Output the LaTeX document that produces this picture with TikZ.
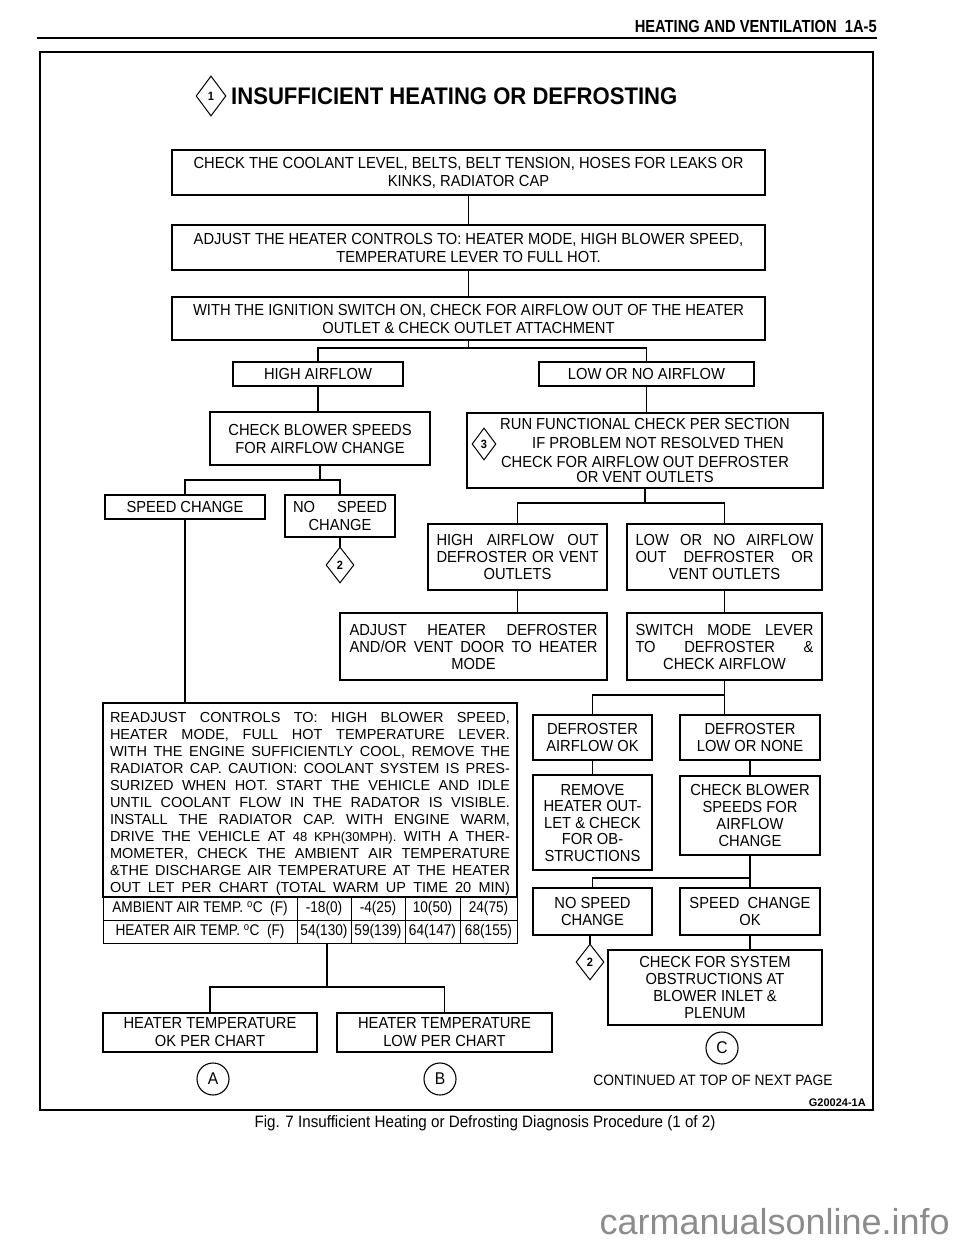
\documentclass[tikz,border=0pt]{standalone}
\usepackage{fontspec}
\setmainfont{Liberation Sans}
\newfontfamily\cond[FakeStretch=0.92]{Liberation Sans}
\newfontfamily\condh[FakeStretch=0.84]{Liberation Sans}
\newfontfamily\condt[FakeStretch=0.88]{Liberation Sans}
\usetikzlibrary{shapes.geometric}
\tikzset{
 box/.style={draw, line width=1.1pt, inner sep=1pt, align=center, font=\cond\fontsize{16}{18}\selectfont},
 lbox/.style={box, font=\cond\fontsize{16}{17}\selectfont},
 conn/.style={line width=1.1pt},
 dmd/.style={draw, diamond, line width=1pt, inner sep=0pt, font=\cond\bfseries\fontsize{12}{12}\selectfont},
 circ/.style={draw, circle, line width=1.1pt, minimum size=32pt, inner sep=0pt, font=\cond\fontsize{17}{17}\selectfont},
 cell/.style={draw, line width=1pt, inner sep=0pt, font=\condt\fontsize{15.5}{15.5}\selectfont},
 plain/.style={inner sep=0pt}
}
\begin{document}
\begin{tikzpicture}[x=1pt,y=-1pt]
\useasboundingbox[fill=white] (0,0) rectangle (960,1242);
% header
\node[plain, anchor=east, font=\condh\bfseries\fontsize{17.5}{18}\selectfont] (hdr) at (877,26) {HEATING AND VENTILATION\ \ 1A-5};
\draw[line width=2pt] (37,38) -- (877,38);
\draw[line width=1.3pt] (40,52) rectangle (873,1110);
% title
\node[dmd, minimum width=30pt, minimum height=40pt] (d1) at (211,96) {1};
\node[plain, anchor=west, font=\cond\bfseries\fontsize{24}{24}\selectfont] (ttl) at (231,96) {INSUFFICIENT HEATING OR DEFROSTING};
% top chain
\node[box, minimum width=593pt, minimum height=45pt] (b1) at (468.5,172.5) {CHECK THE COOLANT LEVEL, BELTS, BELT TENSION, HOSES FOR LEAKS OR\\KINKS, RADIATOR CAP};
\node[box, minimum width=593pt, minimum height=45pt] (b2) at (468.5,247.5) {ADJUST THE HEATER CONTROLS TO: HEATER MODE, HIGH BLOWER SPEED,\\TEMPERATURE LEVER TO FULL HOT.};
\node[box, minimum width=593pt, minimum height=43pt] (b3) at (468.5,318.5) {WITH THE IGNITION SWITCH ON, CHECK FOR AIRFLOW OUT OF THE HEATER\\OUTLET \& CHECK OUTLET ATTACHMENT};
\draw[conn] (b1.south) -- (b2.north);
\draw[conn] (b2.south) -- (b3.north);
% airflow split
\node[box, minimum width=170pt, minimum height=24pt] (high) at (318,374) {HIGH AIRFLOW};
\node[box, minimum width=215pt, minimum height=24pt] (low) at (646.5,374) {LOW OR NO AIRFLOW};
\coordinate (s1) at (468.5,348);
\draw[conn] (b3.south) -- (s1);
\draw[conn] (high.north) |- (s1) -| (low.north);
% left branch
\node[box, minimum width=220pt, minimum height=53pt] (cbs) at (320,438.5) {CHECK BLOWER SPEEDS\\FOR AIRFLOW CHANGE};
\draw[conn] (high.south) -- (high.south |- cbs.north);
\node[box, minimum width=160pt, minimum height=24pt] (spd) at (185,507) {SPEED CHANGE};
\node[box, minimum width=110pt, minimum height=42pt] (nospd) at (340,516) {\makebox[94pt][s]{NO SPEED}\\CHANGE};
\coordinate (s2) at (320,480);
\draw[conn] (cbs.south) -- (s2);
\draw[conn] (spd.north) |- (s2) -| (nospd.north);
\node[dmd, minimum width=28pt, minimum height=36pt] (d2a) at (340,565) {2};
\draw[conn] (nospd.south) -- (d2a.north);
% right branch
\node[box, minimum width=356pt, minimum height=75pt] (run) at (645,450.5) {RUN FUNCTIONAL CHECK PER SECTION\\[1pt]\hspace*{26pt}IF PROBLEM NOT RESOLVED THEN\\[1pt]CHECK FOR AIRFLOW OUT DEFROSTER\\[-3pt]OR VENT OUTLETS};
\node[dmd, minimum width=24pt, minimum height=32pt] (d3) at (484,444) {3};
\draw[conn] (low.south) -- (low.south |- run.north);
\node[lbox, minimum width=179pt, minimum height=66pt] (hao) at (517.5,557) {\makebox[162pt][s]{HIGH AIRFLOW OUT}\\\makebox[162pt][s]{DEFROSTER OR VENT}\\OUTLETS};
\node[lbox, minimum width=195pt, minimum height=66pt] (lao) at (724.5,557) {\makebox[178pt][s]{LOW OR NO AIRFLOW}\\\makebox[178pt][s]{OUT DEFROSTER OR}\\VENT OUTLETS};
\coordinate (s3) at (645,503);
\draw[conn] (run.south) -- (s3);
\draw[conn] (hao.north) |- (s3) -| (lao.north);
\node[lbox, minimum width=267pt, minimum height=67pt] (adj) at (473.5,646.5) {\makebox[248pt][s]{ADJUST HEATER DEFROSTER}\\\makebox[248pt][s]{AND/OR VENT DOOR TO HEATER}\\MODE};
\node[lbox, minimum width=195pt, minimum height=67pt] (sw) at (724.5,646.5) {\makebox[178pt][s]{SWITCH MODE LEVER}\\\makebox[178pt][s]{TO DEFROSTER \&}\\CHECK AIRFLOW};
\draw[conn] (hao.south) -- (hao.south |- adj.north);
\draw[conn] (lao.south) -- (sw.north);
% defroster split
\node[lbox, minimum width=119pt, minimum height=45pt] (dok) at (592.5,737.5) {DEFROSTER\\AIRFLOW OK};
\node[lbox, minimum width=140pt, minimum height=45pt] (dlow) at (750,737.5) {DEFROSTER\\LOW OR NONE};
\coordinate (s4) at (724.5,695);
\draw[conn] (sw.south) -- (s4);
\draw[conn] (dok.north) |- (s4) -- (s4 |- dlow.north);
\node[box, font=\cond\fontsize{16}{16.5}\selectfont, minimum width=119pt, minimum height=95pt] (rem) at (592.5,822.5) {REMOVE\\HEATER OUT-\\LET \& CHECK\\FOR OB-\\STRUCTIONS};
\node[lbox, minimum width=140pt, minimum height=79pt] (cb2) at (750,815.5) {CHECK BLOWER\\SPEEDS FOR\\AIRFLOW\\CHANGE};
\draw[conn] (dok.south) -- (rem.north);
\draw[conn] (dlow.south) -- (cb2.north);
\node[lbox, minimum width=119pt, minimum height=47pt] (ns2) at (592.5,911.5) {NO SPEED\\CHANGE};
\node[lbox, minimum width=140pt, minimum height=47pt] (sco) at (750,911.5) {SPEED\ \ CHANGE\\OK};
\coordinate (s5) at (750,878);
\draw[conn] (cb2.south) -- (s5);
\draw[conn] (ns2.north) |- (s5) -- (sco.north);
\node[dmd, minimum width=28pt, minimum height=36pt] (d2b) at (590,962) {2};
\draw[conn] (ns2.south -| d2b.north) -- (d2b.north);
\node[lbox, minimum width=214pt, minimum height=75pt] (cfs) at (715,987.5) {CHECK FOR SYSTEM\\OBSTRUCTIONS AT\\BLOWER INLET \&\\PLENUM};
\draw[conn] (sco.south) -- (sco.south |- cfs.north);
\node[circ] (cC) at (722,1048) {C};
% readjust box
\node[draw, line width=1.1pt, minimum width=414pt, minimum height=194pt, inner sep=0pt] (rdj) at (310,800) {};
\draw[conn] (spd.south) -- (spd.south |- rdj.north);
\node[plain, align=left, font=\fontsize{14.5}{17}\selectfont] (rdjt) at (310,804) {%
\makebox[400pt][s]{READJUST CONTROLS TO: HIGH BLOWER SPEED,}\\
\makebox[400pt][s]{HEATER MODE, FULL HOT TEMPERATURE LEVER.}\\
\makebox[400pt][s]{WITH THE ENGINE SUFFICIENTLY COOL, REMOVE THE}\\
\makebox[400pt][s]{RADIATOR CAP. CAUTION: COOLANT SYSTEM IS PRES-}\\
\makebox[400pt][s]{SURIZED WHEN HOT. START THE VEHICLE AND IDLE}\\
\makebox[400pt][s]{UNTIL COOLANT FLOW IN THE RADATOR IS VISIBLE.}\\
\makebox[400pt][s]{INSTALL THE RADIATOR CAP. WITH ENGINE WARM,}\\
\makebox[400pt][s]{DRIVE THE VEHICLE AT {\fontsize{13}{17}\selectfont 48 KPH(30MPH).} WITH A THER-}\\
\makebox[400pt][s]{MOMETER, CHECK THE AMBIENT AIR TEMPERATURE}\\
\makebox[400pt][s]{\&THE DISCHARGE AIR TEMPERATURE AT THE HEATER}\\
\makebox[400pt][s]{OUT LET PER CHART (TOTAL WARM UP TIME 20 MIN)}};
% table
\node[cell, minimum width=194pt, minimum height=23pt] (t10) at (200,908.5) {AMBIENT AIR TEMP. \textsuperscript{o}C\ \ (F)};
\node[cell, minimum width=54pt, minimum height=23pt] (t11) at (324,908.5) {-18(0)};
\node[cell, minimum width=54pt, minimum height=23pt] (t12) at (378,908.5) {-4(25)};
\node[cell, minimum width=55pt, minimum height=23pt] (t13) at (432.5,908.5) {10(50)};
\node[cell, minimum width=57pt, minimum height=23pt] (t14) at (488.5,908.5) {24(75)};
\node[cell, minimum width=194pt, minimum height=23pt] (t20) at (200,931.5) {HEATER AIR TEMP. \textsuperscript{o}C\ \ (F)};
\node[cell, minimum width=54pt, minimum height=23pt] (t21) at (324,931.5) {54(130)};
\node[cell, minimum width=54pt, minimum height=23pt] (t22) at (378,931.5) {59(139)};
\node[cell, minimum width=55pt, minimum height=23pt] (t23) at (432.5,931.5) {64(147)};
\node[cell, minimum width=57pt, minimum height=23pt] (t24) at (488.5,931.5) {68(155)};
% heater temperature split
\node[box, minimum width=214pt, minimum height=39pt] (hok) at (210,1032.5) {HEATER TEMPERATURE\\OK PER CHART};
\node[box, minimum width=215pt, minimum height=39pt] (hlow) at (444.5,1032.5) {HEATER TEMPERATURE\\LOW PER CHART};
\coordinate (s6) at (327,987);
\draw[conn] (t21.south -| s6) -- (s6);
\draw[conn] (hok.north) |- (s6) -| (hlow.north);
\node[circ] (cA) at (213,1079) {A};
\node[circ] (cB) at (440,1079) {B};
% footer texts
\node[plain, font=\cond\fontsize{15}{15}\selectfont] (cont) at (713,1080) {CONTINUED AT TOP OF NEXT PAGE};
\node[plain, anchor=east, font=\bfseries\fontsize{11}{11}\selectfont] (gid) at (866,1103) {G20024-1A};
\node[plain, font=\cond\fontsize{16.5}{17}\selectfont] (cap) at (485,1123) {Fig. 7 Insufficient Heating or Defrosting Diagnosis Procedure (1 of 2)};
\node[plain, anchor=east, text=black!45, font=\fontsize{36}{36}\selectfont] (wm) at (950,1222) {carmanualsonline.info};
\end{tikzpicture}
\end{document}
